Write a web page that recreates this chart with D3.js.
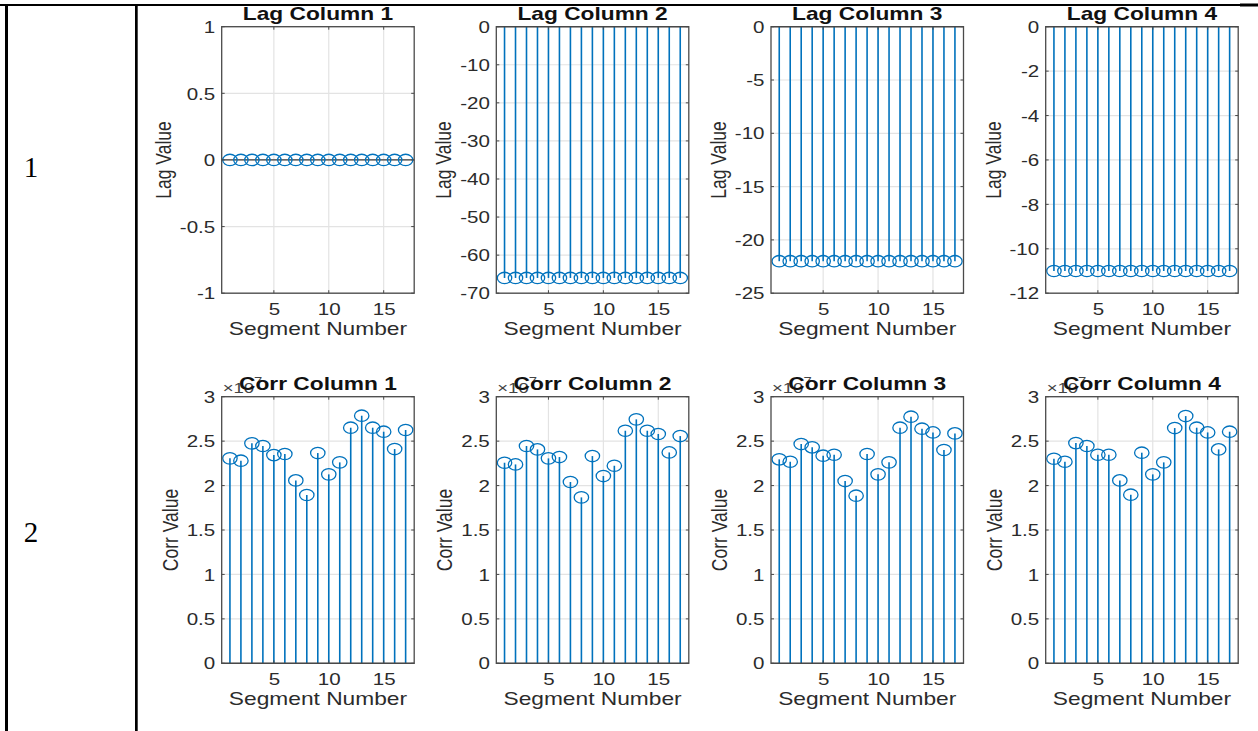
<!DOCTYPE html>
<html><head><meta charset="utf-8">
<script src="https://cdn.jsdelivr.net/npm/d3@7"></script>
<style>body{margin:0;background:#fff} svg{display:block}</style>
</head><body>
<svg id="c" width="1258" height="731"></svg>
<script>
// ---------------- data ----------------
const segments = [1,2,3,4,5,6,7,8,9,10,11,12,13,14,15,16,17];
const lagTitles = ["Lag Column 1","Lag Column 2","Lag Column 3","Lag Column 4"];
const corrTitles = ["Corr Column 1","Corr Column 2","Corr Column 3","Corr Column 4"];
const rowLabels = ["1","2"];
const lag1 = [0,0,0,0,0,0,0,0,0,0,0,0,0,0,0,0,0];
const lag2 = [-66,-66,-66,-66,-66,-66,-66,-66,-66,-66,-66,-66,-66,-66,-66,-66,-66];
const lag3 = [-22,-22,-22,-22,-22,-22,-22,-22,-22,-22,-22,-22,-22,-22,-22,-22,-22];
const lag4 = [-11,-11,-11,-11,-11,-11,-11,-11,-11,-11,-11,-11,-11,-11,-11,-11,-11];
const corr1 = [2.306e7,2.280e7,2.475e7,2.445e7,2.343e7,2.355e7,2.058e7,1.894e7,2.366e7,2.126e7,2.261e7,2.651e7,2.786e7,2.651e7,2.606e7,2.411e7,2.625e7];
const corr2 = [2.257e7,2.238e7,2.445e7,2.407e7,2.306e7,2.321e7,2.040e7,1.867e7,2.332e7,2.107e7,2.223e7,2.617e7,2.745e7,2.617e7,2.580e7,2.373e7,2.557e7];
const corr3 = [2.295e7,2.268e7,2.467e7,2.430e7,2.336e7,2.347e7,2.051e7,1.886e7,2.355e7,2.126e7,2.261e7,2.651e7,2.775e7,2.640e7,2.598e7,2.400e7,2.587e7];
const corr4 = [2.302e7,2.268e7,2.478e7,2.445e7,2.347e7,2.347e7,2.058e7,1.897e7,2.370e7,2.126e7,2.261e7,2.647e7,2.782e7,2.651e7,2.598e7,2.407e7,2.606e7];
const lagDomains = [[-1,1],[-70,0],[-25,0],[-12,0]];
const lagTicks = [[-1,-0.5,0,0.5,1],[-70,-60,-50,-40,-30,-20,-10,0],[-25,-20,-15,-10,-5,0],[-12,-10,-8,-6,-4,-2,0]];
const corrDomain = [0,3e7];
const corrTicks = [0,0.5e7,1e7,1.5e7,2e7,2.5e7,3e7];
const xDomain = [0.25,17.78];
const xTicks = [5,10,15];
const xLabel = "Segment Number";
const lagYLabel = "Lag Value", corrYLabel = "Corr Value";
const exponentBase = "×10", exponentPow = "7";

// ---------------- layout ----------------
const SX = 1.3;               // horizontal stretch of the source raster
const svg = d3.select("#c");
const BLUE = "#0072BD";
const FONT = "'Liberation Sans', Arial, Helvetica, sans-serif";
const lefts = [221.7, 496.3, 771, 1045.7];
const PW = 192.5;
const rows = [{top:26.7, h:266.5},{top:396.7, h:266.6}];

// table lines
svg.append("rect").attr("x",0).attr("y",4).attr("width",1258).attr("height",2).attr("fill","#000");
svg.append("rect").attr("x",5).attr("y",4).attr("width",3).attr("height",727).attr("fill","#000");
svg.append("rect").attr("x",135).attr("y",4).attr("width",2.7).attr("height",727).attr("fill","#000");
svg.append("rect").attr("x",1240).attr("y",3.5).attr("width",18).attr("height",3).attr("fill","#000");

rowLabels.forEach((t,i)=>{
  svg.append("text").attr("x",31).attr("y", i===0?177:542)
    .attr("text-anchor","middle").attr("font-family","'Liberation Serif','Times New Roman',serif")
    .attr("font-size",29).attr("fill","#000").text(t);
});

function drawPanel(left, top, h, domain, ticks, fmt, values, title, ylabel, exponent){
  const g = svg.append("g");
  const x = d3.scaleLinear().domain(xDomain).range([left, left+PW]);
  const y = d3.scaleLinear().domain(domain).range([top+h, top]);
  // grid
  g.selectAll(".gx").data(xTicks).join("line")
    .attr("x1",d=>x(d)).attr("x2",d=>x(d)).attr("y1",top).attr("y2",top+h)
    .attr("stroke","#e3e3e3").attr("stroke-width",1.2);
  g.selectAll(".gy").data(ticks).join("line")
    .attr("x1",left).attr("x2",left+PW).attr("y1",d=>y(d)).attr("y2",d=>y(d))
    .attr("stroke","#e3e3e3").attr("stroke-width",1.2);
  // stems
  const pts = segments.map((s,i)=>({s, v:values[i]}));
  g.selectAll(".st").data(pts).join("line")
    .attr("x1",d=>x(d.s)).attr("x2",d=>x(d.s)).attr("y1",y(0)).attr("y2",d=>y(d.v))
    .attr("stroke",BLUE).attr("stroke-width",1.6);
  // baseline
  g.append("line").attr("x1",left).attr("x2",left+PW).attr("y1",y(0)).attr("y2",y(0))
    .attr("stroke","#3a3a3a").attr("stroke-width",1.3);
  // markers
  g.selectAll(".mk").data(pts).join("ellipse")
    .attr("cx",d=>x(d.s)).attr("cy",d=>y(d.v)).attr("rx",7.2).attr("ry",5.7)
    .attr("fill","none").attr("stroke",BLUE).attr("stroke-width",1.3);
  // box
  g.append("rect").attr("x",left).attr("y",top).attr("width",PW).attr("height",h)
    .attr("fill","none").attr("stroke","#4a4a4a").attr("stroke-width",1.3);
  // inward ticks
  const TL = 3;
  xTicks.forEach(t=>{
    g.append("line").attr("x1",x(t)).attr("x2",x(t)).attr("y1",top+h).attr("y2",top+h-TL).attr("stroke","#4a4a4a");
    g.append("line").attr("x1",x(t)).attr("x2",x(t)).attr("y1",top).attr("y2",top+TL).attr("stroke","#4a4a4a");
  });
  ticks.forEach(t=>{
    g.append("line").attr("x1",left).attr("x2",left+TL).attr("y1",y(t)).attr("y2",y(t)).attr("stroke","#4a4a4a");
    g.append("line").attr("x1",left+PW).attr("x2",left+PW-TL).attr("y1",y(t)).attr("y2",y(t)).attr("stroke","#4a4a4a");
  });
  // y tick labels via axis
  const ya = g.append("g").attr("transform",`translate(${left},0)`)
    .call(d3.axisLeft(y).tickValues(ticks).tickSize(0).tickPadding(0).tickFormat(fmt));
  ya.select(".domain").remove();
  ya.selectAll("text").attr("x",null).attr("dy","0.36em")
    .attr("transform",`translate(-6.5,0) scale(${SX},1)`)
    .attr("font-family",FONT).attr("font-size",15.8).attr("fill","#2b2b2b");
  // x tick labels via axis
  const xa = g.append("g").attr("transform",`translate(0,${top+h})`)
    .call(d3.axisBottom(x).tickValues(xTicks).tickSize(0).tickPadding(0).tickFormat(d=>String(d)));
  xa.select(".domain").remove();
  xa.selectAll("text").attr("y",null).attr("dy",null)
    .attr("transform",`translate(0,22) scale(${SX},1)`)
    .attr("font-family",FONT).attr("font-size",15.8).attr("fill","#2b2b2b");
  // x label
  g.append("text").attr("text-anchor","middle")
    .attr("transform",`translate(${left+PW/2},${top+h+42}) scale(${SX},1)`)
    .attr("font-family",FONT).attr("font-size",17.5).attr("fill","#2b2b2b").text(xLabel);
  // y label
  const bb = ya.node().getBBox();
  const cx = left + bb.x - 17;
  g.append("text").attr("text-anchor","middle")
    .attr("transform",`translate(${cx+8},${top+h/2}) scale(${SX},1) rotate(-90)`)
    .attr("font-family",FONT).attr("font-size",17.5).attr("fill","#2b2b2b").text(ylabel);
  // exponent (overlapped by the title, as in the source figure)
  if (exponent){
    const et = g.append("text").attr("transform",`translate(${left+1},${top-4}) scale(${SX*0.95},1)`)
      .attr("font-family",FONT).attr("font-size",15).attr("fill","#444");
    et.append("tspan").text(exponentBase);
    et.append("tspan").attr("dy",-7).attr("font-size",12).text(exponentPow);
  }
  // title
  g.append("text").attr("text-anchor","middle")
    .attr("transform",`translate(${left+PW/2},${top-6.5}) scale(${SX},1)`)
    .attr("font-family",FONT).attr("font-weight","bold").attr("font-size",17.5).attr("fill","#111").text(title);
}

const lagData = [lag1,lag2,lag3,lag4];
const corrData = [corr1,corr2,corr3,corr4];
lagData.forEach((vals,i)=>{
  drawPanel(lefts[i], rows[0].top, rows[0].h, lagDomains[i], lagTicks[i], d=>String(d), vals, lagTitles[i], lagYLabel, false);
});
corrData.forEach((vals,i)=>{
  drawPanel(lefts[i], rows[1].top, rows[1].h, corrDomain, corrTicks, d=>String(d/1e7), vals, corrTitles[i], corrYLabel, true);
});
</script>
</body></html>
